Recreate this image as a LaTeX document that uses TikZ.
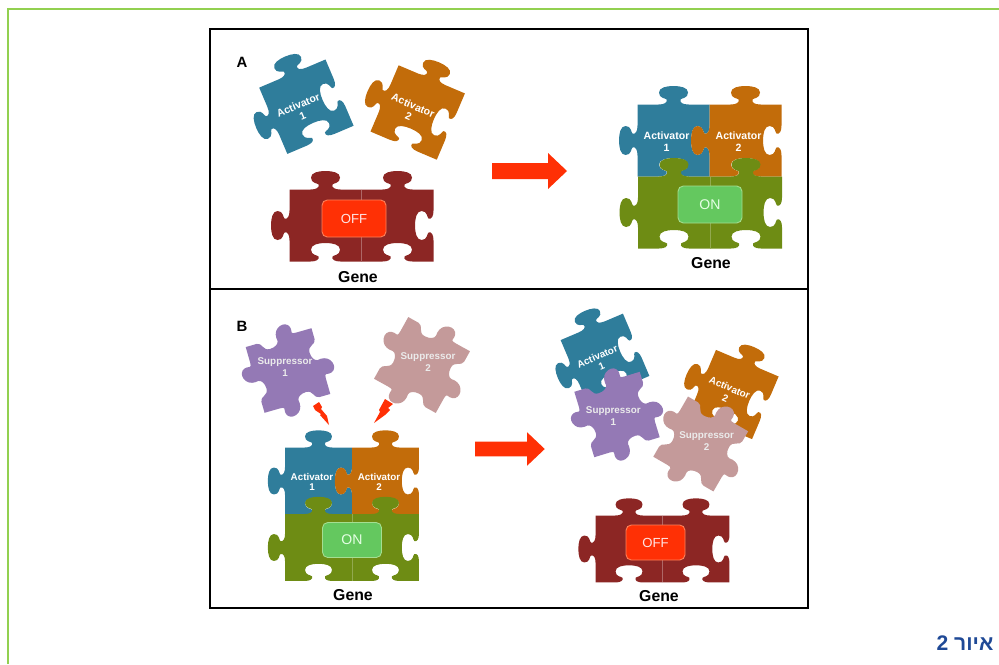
\documentclass[tikz,border=0pt]{standalone}
\usepackage{fontspec}
\setmainfont{Liberation Sans}
\newfontfamily\hebfont[Script=Hebrew]{Liberation Sans}
\TeXXeTstate=1

\definecolor{actblue}{RGB}{47,125,155}
\definecolor{actorange}{RGB}{194,108,10}
\definecolor{genegreen}{RGB}{110,140,20}
\definecolor{genered}{RGB}{140,38,36}
\definecolor{suppurple}{RGB}{148,121,181}
\definecolor{suppink}{RGB}{196,154,154}
\definecolor{hotred}{RGB}{255,48,5}
\definecolor{onfill}{RGB}{100,200,95}
\definecolor{onrim}{RGB}{165,222,145}
\definecolor{offrim}{RGB}{255,130,90}
\definecolor{framegreen}{RGB}{146,208,80}
\definecolor{captionblue}{RGB}{31,73,150}

% one knob on an edge: position, direction of travel, 1 = tab, -1 = slot
\newcommand{\knob}[3]{{[shift={#1},rotate=#2,yscale=#3]
	-- (-15,0) .. controls (-9,0) and (-6,2) .. (-7,5)
	.. controls (-8,6.5) and (-14.5,6) .. (-14.5,12)
	.. controls (-14.5,17) and (-7,18.5) .. (0,18.5)
	.. controls (7,18.5) and (14.5,17) .. (14.5,12)
	.. controls (14.5,6) and (8,6.5) .. (7,5)
	.. controls (6,2) and (9,0) .. (15,0)}}
% notch followed by a lobe, for the suppressor edges
\newcommand{\lobe}[2]{{[shift={#1},rotate=#2]
	-- (-24,0) .. controls (-18,0) and (-20,-9) .. (-12,-9)
	.. controls (-6,-9) and (-2,-6) .. (-2,-3)
	.. controls (-2,0) and (-3,1) .. (-2,4)
	.. controls (-1,9) and (4,12) .. (8,12)
	.. controls (12,12) and (15,9) .. (15,5)
	.. controls (15,2) and (13,0) .. (19,0)}}

\tikzset{
	pieceText/.style={text=white,font=\bfseries\fontsize{6}{6.6}\selectfont,align=center,inner sep=0pt},
	suppText/.style={text=white!92!black,font=\bfseries\fontsize{5.6}{6.6}\selectfont,align=center,inner sep=0pt},
	geneText/.style={font=\bfseries\fontsize{9}{10}\selectfont,inner sep=0pt},
	panelText/.style={font=\bfseries\fontsize{8.5}{10}\selectfont,inner sep=0pt},
	offBox/.style={draw=offrim,fill=hotred,rounded corners=3pt,line width=.5pt,text=white!90!red,font=\fontsize{7.5}{9}\selectfont},
	onBox/.style={draw=onrim,fill=onfill,rounded corners=3pt,line width=.5pt,text=white!90!green,font=\fontsize{8}{9}\selectfont},
	pics/activator/.style 2 args={code={
		\fill[#1] (-36,36) \knob{(0,36)}{0}{1} -- (36,36) \knob{(36,0)}{-90}{-1}
			-- (36,-36) \knob{(0,-36)}{180}{-1} -- (-36,-36) \knob{(-36,0)}{90}{1} -- cycle;
		\node[pieceText,transform shape] (-text) at (-7,-1) {Activator\\#2};
	}},
	pics/suppressor/.style={code={
		\fill[#1] (-36,36) \lobe{(0,36)}{0} -- (36,36) \lobe{(36,0)}{-90}
			-- (36,-36) \lobe{(0,-36)}{180} -- (-36,-36) \lobe{(-36,0)}{90} -- cycle;
	}},
	pics/gene/.style 2 args={code={
		\fill[#1] (-72,36) \knob{(-36,36)}{0}{1} \knob{(36,36)}{0}{1} -- (72,36) \knob{(72,0)}{-90}{-1}
			-- (72,-36) \knob{(36,-36)}{180}{-1} \knob{(-36,-36)}{180}{-1} -- (-72,-36) \knob{(-72,0)}{90}{1} -- cycle;
		\draw[#2,line width=.4pt] (0,36) -- (0,-36);
	}},
	pics/bigarrow/.style={code={
		\fill[hotred] (0,-8) -- (56,-8) -- (56,-18) -- (75,0) -- (56,18) -- (56,8) -- (0,8) -- cycle;
	}}
}

\begin{document}
\begin{tikzpicture}[x=.02cm,y=.02cm]
	\useasboundingbox (0,0) rectangle (999,664);
	\draw[framegreen,line width=1.5pt] (8,0) -- (8,655) -- (999,655);
	\draw[black,line width=1.1pt] (210,635) rectangle (808,56);
	\draw[black,line width=1.7pt] (210,375) -- (808,375);

	\node[panelText] (panelA) at (242,602) {A};
	\node[panelText] (panelB) at (242,338) {B};

	% first row: free activators
	\pic (a1) [rotate=23] at (306.4,557.3) {activator={actblue}{1}};
	\pic (a2) [rotate=-23] at (417.7,551.5) {activator={actorange}{2}};
	\pic (g1) at (361.5,438.5) {gene={genered}{genered!70!white}};
	\node[offBox,minimum width=1.28cm,minimum height=.74cm] (off1) at (354,445.5) {OFF};
	\node[geneText] (gene1) at (358,387) {Gene};

	\pic (arrow1) at (492,493) {bigarrow};

	% first row: assembled
	\pic (a3) at (673.5,523.5) {activator={actblue}{1}};
	\pic (a4) at (745.5,523.5) {activator={actorange}{2}};
	\pic (g2) at (710,451.5) {gene={genegreen}{genegreen!75!white}};
	\node[onBox,minimum width=1.28cm,minimum height=.74cm] (on1) at (710,459.5) {ON};
	\node[geneText] (gene2) at (711,401) {Gene};

	% second row: suppressors coming in
	\pic (s1) [rotate=16,scale=.95] at (288,293.5) {suppressor=suppurple};
	\node[suppText] (s1text) at (285,297) {Suppressor\\1};
	\pic (s2) [rotate=-29,scale=.98] at (422,299) {suppressor=suppink};
	\node[suppText] (s2text) at (428,302) {Suppressor\\2};
	\fill[hotred] (313,258) -- (319,262) -- (322,257) -- (321,255) -- (327,248) -- (329,239) -- (320,249) -- (321,250) -- (315,254) -- cycle;
	\fill[hotred] (385,265) -- (393,260) -- (388,256) -- (390,254) -- (385,249) -- (374,241) -- (380,252) -- (379,254) -- cycle;

	\pic (a5) [scale=.93] at (318.5,183) {activator={actblue}{1}};
	\pic (a6) [scale=.93] at (385.5,183) {activator={actorange}{2}};
	\pic (g3) [scale=.93] at (352,116.5) {gene={genegreen}{genegreen!75!white}};
	\node[onBox,minimum width=1.18cm,minimum height=.7cm] (on2) at (352,124) {ON};
	\node[geneText] (gene3) at (353,69) {Gene};

	\pic (arrow2) [scale=.93] at (475,215) {bigarrow};

	% second row: pulled apart
	\pic (a7) [rotate=23,scale=.94] at (605,306) {activator={actblue}{1}};
	\pic (s3) [rotate=17,scale=.95] at (617,249.5) {suppressor=suppurple};
	\node[suppText] (s3text) at (613.3,248) {Suppressor\\1};
	\pic (a8) [rotate=-23,scale=.945] at (734,269.5) {activator={actorange}{2}};
	\pic (s4) [rotate=-30,scale=.965] at (700.7,220) {suppressor=suppink};
	\node[suppText] (s4text) at (706.7,223) {Suppressor\\2};
	\pic (g4) [scale=.93] at (662.5,115) {gene={genered}{genered!70!white}};
	\node[offBox,minimum width=1.18cm,minimum height=.7cm] (off2) at (655.5,121.5) {OFF};
	\node[geneText] (gene4) at (659,68) {Gene};

	\node[text=captionblue,font=\hebfont\bfseries\fontsize{12}{14}\selectfont,inner sep=0pt] (caption) at (965,21) {\beginR איור 2\endR};
\end{tikzpicture}
\end{document}
